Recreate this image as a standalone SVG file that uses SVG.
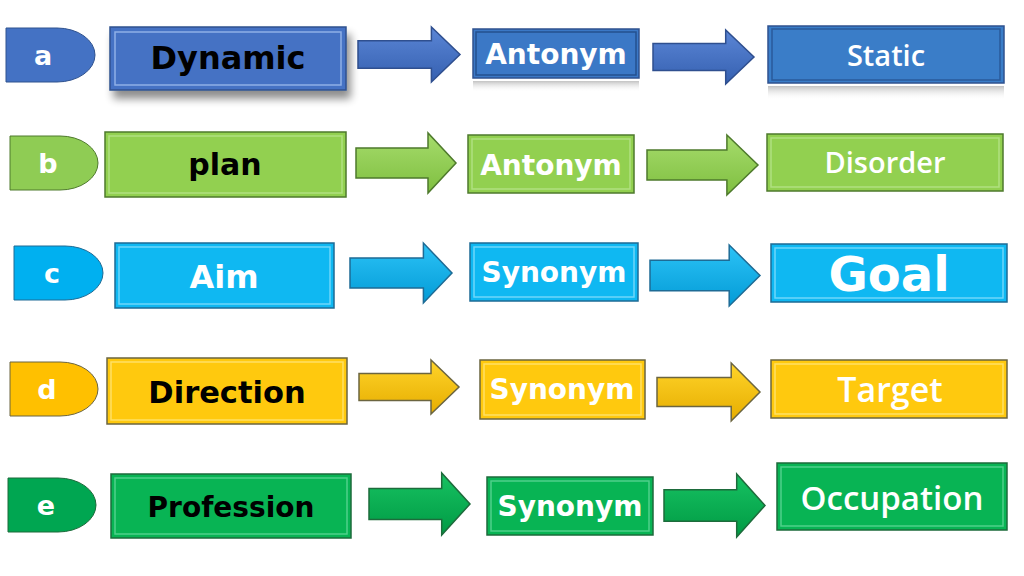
<svg xmlns="http://www.w3.org/2000/svg" width="1024" height="576" viewBox="0 0 1024 576">
<defs>
<filter id="sh" x="-10%" y="-20%" width="130%" height="160%"><feGaussianBlur in="SourceAlpha" stdDeviation="4"/><feOffset dx="4" dy="8"/><feComponentTransfer><feFuncA type="linear" slope="0.45"/></feComponentTransfer><feMerge><feMergeNode/><feMergeNode in="SourceGraphic"/></feMerge></filter>
<linearGradient id="refl" x1="0" y1="0" x2="0" y2="1"><stop offset="0" stop-color="#9a9a9a" stop-opacity="0.6"/><stop offset="1" stop-color="#ffffff" stop-opacity="0"/></linearGradient>
<linearGradient id="ga" x1="0" y1="0" x2="0" y2="1"><stop offset="0" stop-color="#5b86d6"/><stop offset="1" stop-color="#3560b0"/></linearGradient>
<linearGradient id="gb" x1="0" y1="0" x2="0" y2="1"><stop offset="0" stop-color="#a6dc6c"/><stop offset="1" stop-color="#7fbf40"/></linearGradient>
<linearGradient id="gc" x1="0" y1="0" x2="0" y2="1"><stop offset="0" stop-color="#2cc3f7"/><stop offset="1" stop-color="#039bd6"/></linearGradient>
<linearGradient id="gd" x1="0" y1="0" x2="0" y2="1"><stop offset="0" stop-color="#ffd42a"/><stop offset="1" stop-color="#e6ad00"/></linearGradient>
<linearGradient id="ge" x1="0" y1="0" x2="0" y2="1"><stop offset="0" stop-color="#17c262"/><stop offset="1" stop-color="#009a44"/></linearGradient>
</defs>
<style>
.lab{font-family:"DejaVu Sans",Verdana,sans-serif;font-weight:bold;font-size:27px;fill:#fff;text-anchor:middle}
.fut{font-family:"DejaVu Sans",Verdana,sans-serif;font-weight:bold;font-size:31px;fill:#000;text-anchor:middle}
.fut.w{fill:#fff}
.ver{font-family:"DejaVu Sans",Verdana,sans-serif;font-weight:bold;font-size:28px;fill:#fff;text-anchor:middle}
.cal{font-family:"Open Sans","Noto Sans",sans-serif;font-weight:600;font-size:29px;fill:#fff;text-anchor:middle}
.ins{fill:none;stroke-width:1.5}
.ca{fill:#4472c4;stroke:#2f528f;stroke-width:1.5}
.cb{fill:#92d050;stroke:#4e7a2c;stroke-width:1.5}
.cc{fill:#0fb8f2;stroke:#1e6b95;stroke-width:1.5}
.cd{fill:#ffc90e;stroke:#6b6540;stroke-width:1.5}
.ce{fill:#08b454;stroke:#1d6b3b;stroke-width:1.5}
.la{fill:#4472c4;stroke:#2f528f;stroke-width:1}
.lb{fill:#8fcc54;stroke:#4e7a2c;stroke-width:1}
.lc{fill:#00b0f0;stroke:#1e6b95;stroke-width:1}
.ld{fill:#ffc000;stroke:#6b6540;stroke-width:1}
.le{fill:#00a651;stroke:#1d6b3b;stroke-width:1}
</style>

<g id="connectors" stroke-width="1.5" stroke-linejoin="miter">
<path fill="url(#ga)" stroke="#2f4f8f" d="M358,40.75 H431.4 V27 L460,54.5 L431.4,82 V68.25 H358 Z"/>
<path fill="url(#ga)" stroke="#2f4f8f" d="M653,43.5 H725.7 V30 L754,57 L725.7,84 V70.5 H653 Z"/>
<path fill="url(#gb)" stroke="#4e7a2c" d="M356,148 H428 V133 L456,163 L428,193 V178 H356 Z"/>
<path fill="url(#gb)" stroke="#4e7a2c" d="M647,150 H726.9 V135 L758,165 L726.9,195 V180 H647 Z"/>
<path fill="url(#gc)" stroke="#1e6b95" d="M350,258 H423.4 V243 L452,273 L423.4,303 V288 H350 Z"/>
<path fill="url(#gc)" stroke="#1e6b95" d="M650,260.25 H729.2 V245 L760,275.5 L729.2,306 V290.75 H650 Z"/>
<path fill="url(#gd)" stroke="#6b6540" d="M359,373.5 H431 V360 L459,387 L431,414 V400.5 H359 Z"/>
<path fill="url(#gd)" stroke="#6b6540" d="M657,377.5 H731.2 V363 L760,392 L731.2,421 V406.5 H657 Z"/>
<path fill="url(#ge)" stroke="#1d6b3b" d="M369,488.5 H441.7 V473 L470,504 L441.7,535 V519.5 H369 Z"/>
<path fill="url(#ge)" stroke="#1d6b3b" d="M664,489.75 H736.7 V474 L765,505.5 L736.7,537 V521.25 H664 Z"/>
</g>

<!-- Row a -->
<g id="label-a"><path class="la" d="M6,28 H57 A38,27 0 0 1 57,82 H6 Z"/><text class="lab" x="43" y="65">a</text></g>
<g id="node-dynamic"><rect class="ca" x="110" y="27" width="236" height="63" filter="url(#sh)"/><rect class="ins" stroke="#8fb0e6" x="115" y="32" width="226" height="53"/><text class="fut" x="228" y="69" style="font-size:32px">Dynamic</text></g>
<g id="node-antonym-a"><rect fill="url(#refl)" x="473" y="81" width="166" height="11"/><rect class="ca" x="473" y="29" width="166" height="49" style="fill:#3b78c6"/><rect class="ins" stroke="#25508f" x="476" y="32" width="160" height="43"/><text class="ver" x="556" y="64">Antonym</text></g>
<g id="node-static"><rect fill="url(#refl)" x="768" y="86" width="236" height="14"/><rect class="ca" x="768" y="26" width="236" height="57" style="fill:#3a7dc8"/><rect class="ins" stroke="#2a5a9a" x="772" y="29" width="228" height="51"/><text class="cal" x="886" y="66">Static</text></g>

<!-- Row b -->
<g id="label-b"><path class="lb" d="M10,136 H60 A38,27 0 0 1 60,190 H10 Z"/><text class="lab" x="48" y="173">b</text></g>
<g id="node-plan"><rect class="cb" x="105" y="132" width="241" height="65"/><rect class="ins" stroke="#b0e080" x="109" y="136" width="233" height="57"/><text class="fut" x="225" y="175" style="font-size:30px">plan</text></g>
<g id="node-antonym-b"><rect class="cb" x="468" y="135" width="166" height="58"/><rect class="ins" stroke="#b0e080" x="472" y="139" width="158" height="50"/><text class="ver" x="551" y="175">Antonym</text></g>
<g id="node-disorder"><rect class="cb" x="767" y="134" width="236" height="57"/><rect class="ins" stroke="#b0e080" x="771" y="138" width="228" height="49"/><text class="cal" x="885" y="173">Disorder</text></g>

<!-- Row c -->
<g id="label-c"><path class="lc" d="M14,246 H65 A38,27 0 0 1 65,300 H14 Z"/><text class="lab" x="52" y="283">c</text></g>
<g id="node-aim"><rect class="cc" x="115" y="243" width="219" height="65"/><rect class="ins" stroke="#6fd6fa" x="119" y="247" width="211" height="57"/><text class="fut w" x="224" y="288" style="font-size:32px">Aim</text></g>
<g id="node-synonym-c"><rect class="cc" x="470" y="243" width="168" height="58"/><rect class="ins" stroke="#6fd6fa" x="474" y="247" width="160" height="50"/><text class="ver" x="554" y="282">Synonym</text></g>
<g id="node-goal"><rect class="cc" x="771" y="244" width="236" height="58"/><rect class="ins" stroke="#6fd6fa" x="775" y="248" width="228" height="50"/><text x="889" y="291" text-anchor="middle" fill="#fff" style="font-family:'DejaVu Sans',Verdana,sans-serif;font-weight:bold;font-size:48px">Goal</text></g>

<!-- Row d -->
<g id="label-d"><path class="ld" d="M10,362 H60 A38,27 0 0 1 60,416 H10 Z"/><text class="lab" x="47" y="399">d</text></g>
<g id="node-direction"><rect class="cd" x="107" y="358" width="240" height="66"/><rect class="ins" stroke="#ffe066" x="111" y="362" width="232" height="58"/><text class="fut" x="227" y="403" style="font-size:30.5px">Direction</text></g>
<g id="node-synonym-d"><rect class="cd" x="480" y="360" width="165" height="59"/><rect class="ins" stroke="#ffe066" x="484" y="364" width="157" height="51"/><text class="ver" x="562" y="399">Synonym</text></g>
<g id="node-target"><rect class="cd" x="771" y="360" width="236" height="58"/><rect class="ins" stroke="#ffe066" x="775" y="364" width="228" height="50"/><text class="cal" x="890" y="402" style="font-size:34px">Target</text></g>

<!-- Row e -->
<g id="label-e"><path class="le" d="M8,478 H58 A38,27 0 0 1 58,532 H8 Z"/><text class="lab" x="46" y="515">e</text></g>
<g id="node-profession"><rect class="ce" x="111" y="474" width="240" height="64"/><rect class="ins" stroke="#4fd08a" x="115" y="478" width="232" height="56"/><text class="fut" x="231" y="517" style="font-size:28px">Profession</text></g>
<g id="node-synonym-e"><rect class="ce" x="487" y="477" width="166" height="58"/><rect class="ins" stroke="#4fd08a" x="491" y="481" width="158" height="50"/><text class="ver" x="570" y="516">Synonym</text></g>
<g id="node-occupation"><rect class="ce" x="777" y="463" width="230" height="67"/><rect class="ins" stroke="#4fd08a" x="781" y="467" width="222" height="59"/><text class="cal" x="892" y="510" style="font-size:33px">Occupation</text></g>
</svg>
